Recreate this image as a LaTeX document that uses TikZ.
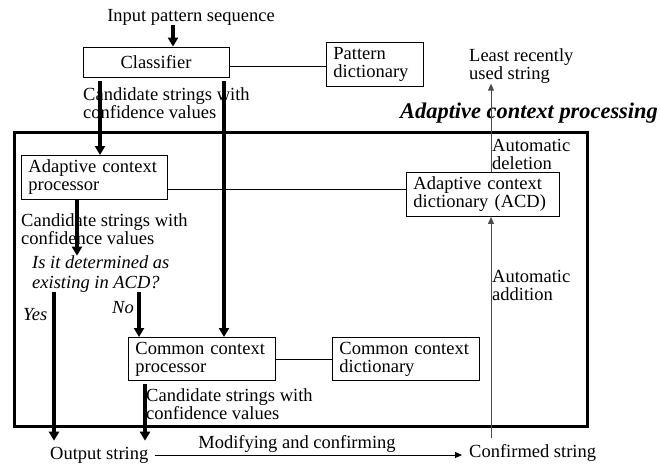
\documentclass[tikz,border=0pt]{standalone}
\usepackage{fontspec}
\setmainfont{Liberation Serif}
\usetikzlibrary{arrows.meta}
\begin{document}
\begin{tikzpicture}[x=1pt,y=-1pt,
  every node/.style={font=\fontsize{18.5}{18}\selectfont, inner sep=0pt},
  box/.style={draw, line width=0.9pt, inner xsep=7pt, inner ysep=0pt, align=left, anchor=north west},
  lbl/.style={align=left, anchor=west},
  thk/.style={line width=3.3pt, -{Triangle[width=10pt,length=9pt]}},
  thn/.style={line width=0.9pt},
  thnarr/.style={line width=0.9pt, -{Triangle[width=6pt,length=7pt]}},
  grayarr/.style={line width=0.9pt, black!70, -{Triangle[width=6pt,length=7pt]}}]
\useasboundingbox (0,0) rectangle (660,464);

% column / row helpers
\coordinate (cA) at (173,0);
\coordinate (cB) at (100,0);
\coordinate (cC) at (224,0);
\coordinate (cD) at (77,0);
\coordinate (cE) at (54,0);
\coordinate (cF) at (139,0);
\coordinate (cG) at (145,0);
\coordinate (cH) at (491,0);
\coordinate (rPD) at (0,66);
\coordinate (rACD) at (0,189);
\coordinate (rCC) at (0,359);

% frame
\draw[line width=3pt] (14.5,132.5) rectangle (587,426);

% boxes
\node[box, anchor=center, minimum width=146pt, minimum height=30pt] (cls) at (156,62) {Classifier};
\node[box, text width=83pt, minimum height=44pt] (pd) at (326,42) {Pattern\\dictionary};
\node[box, text width=132pt, minimum height=44pt] (acp) at (21,155) {Adaptive context\\processor};
\node[box, text width=139pt, minimum height=44pt] (acd) at (406,172) {Adaptive context\\dictionary (ACD)};
\node[box, text width=133pt, minimum height=43pt] (ccp) at (128,337) {Common context\\processor};
\node[box, text width=133pt, minimum height=43pt] (ccd) at (332,337) {Common context\\dictionary};

% texts
\node (inp) at (191,17) {Input pattern sequence};
\node[lbl] (lab1) at (83,103) {Candidate strings with\\confidence values};
\node[anchor=center, font=\fontsize{22.4}{24}\selectfont\bfseries\itshape] (title) at (529,113) {Adaptive context processing};
\node[lbl] (lru) at (469,66) {Least recently\\used string};
\node[lbl] (del) at (492,154) {Automatic\\deletion};
\node[lbl] (lab2) at (21,229) {Candidate strings with\\confidence values};
\node[lbl, font=\fontsize{18.5}{19.5}\selectfont\itshape] (q) at (32,274) {Is it determined as\\existing in ACD?};
\node[lbl] (add) at (492,285) {Automatic\\addition};
\node[lbl, font=\fontsize{18.5}{18}\selectfont\itshape] (yes) at (23,315) {Yes};
\node[lbl, font=\fontsize{18.5}{18}\selectfont\itshape] (no) at (112,308) {No};
\node[lbl] (lab3) at (146,404) {Candidate strings with\\confidence values};
\node[lbl, inner xsep=6pt, inner ysep=6pt] (out) at (44,455) {Output string};
\node[lbl, inner xsep=7pt, inner ysep=6pt] (conf) at (462,453) {Confirmed string};
\node (mod) at (297,444) {Modifying and confirming};

% connectors
\draw[thk] (inp.south -| cA) -- (cls.north -| cA);
\draw[thn] (cls.east |- rPD) -- (pd.west |- rPD);
\draw[thk, shorten <=4pt] (cls.south -| cB) -- (acp.north -| cB);
\draw[thk, shorten <=4pt] (cls.south -| cC) -- (ccp.north -| cC);
\draw[thn] (acp.east |- rACD) -- (acd.west |- rACD);
\draw[thk] (acp.south -| cD) -- (q.north -| cD);
\draw[thk] (q.south -| cE) -- (out.north -| cE);
\draw[thk] (q.south -| cF) -- (ccp.north -| cF);
\draw[thk, shorten <=3pt] (ccp.south -| cG) -- (out.north -| cG);
\draw[thn] (ccp.east |- rCC) -- (ccd.west |- rCC);
\draw[thnarr] (out.east) -- (conf.west |- out.east);
\draw[grayarr] (conf.north -| cH) -- (acd.south -| cH);
\draw[grayarr] (acd.north -| cH) -- (lru.south -| cH);
\end{tikzpicture}
\end{document}
